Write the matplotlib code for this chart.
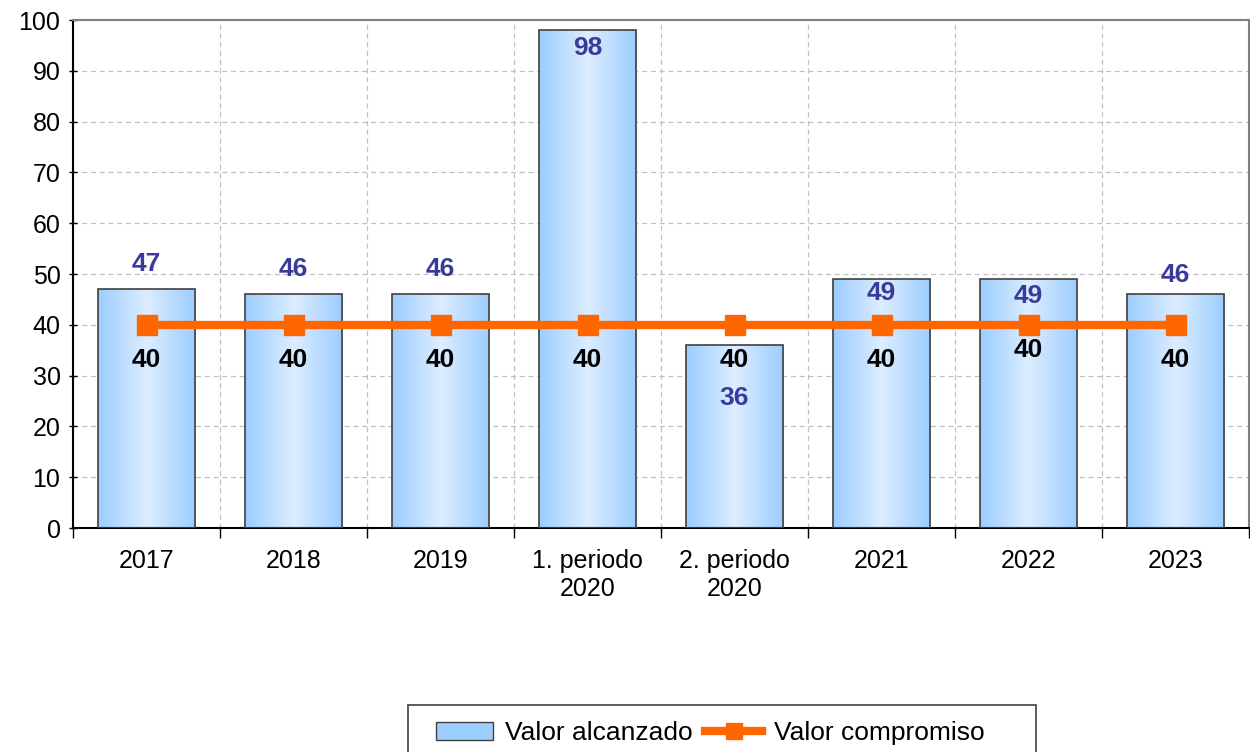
import matplotlib
matplotlib.use("Agg")
import matplotlib.pyplot as plt
import numpy as np
from matplotlib.colors import LinearSegmentedColormap
from matplotlib.lines import Line2D
from matplotlib.patches import Patch, Rectangle

plt.rcParams['font.family'] = ['Liberation Sans', 'DejaVu Sans']

categories = ['2017', '2018', '2019', '1. periodo\n2020', '2. periodo\n2020', '2021', '2022', '2023']
alcanzado = [47, 46, 46, 98, 36, 49, 49, 46]
compromiso = [40, 40, 40, 40, 40, 40, 40, 40]
# where the value labels sit (data units)
pos_alcanzado = [52.0, 51.0, 51.0, 94.5, 25.6, 46.3, 45.7, 49.8]
pos_compromiso = [33.1, 33.1, 33.1, 33.1, 33.1, 33.1, 35.0, 33.1]

W, H = 1250, 752
fig = plt.figure(figsize=(W / 100, H / 100), dpi=100)
ax = fig.add_axes([73 / W, 1 - 528 / H, 1176 / W, 508 / H])

x = np.arange(len(categories))
bars = ax.bar(x, alcanzado, width=0.66, color='none', edgecolor='#404040', linewidth=1.2, zorder=3)

# horizontal gradient inside each bar
cmap = LinearSegmentedColormap.from_list('g', ['#9ccdff', '#dcedff', '#9ccdff'])
grad = np.linspace(0, 1, 256).reshape(1, -1)
for b in bars:
    im = ax.imshow(grad, cmap=cmap, aspect='auto', zorder=2,
                   extent=[b.get_x(), b.get_x() + b.get_width(), 0, b.get_height()])
    im.set_clip_path(b)

ax.plot(x, compromiso, color='#ff6600', linewidth=6, marker='s', markersize=14, zorder=4)

for i in range(len(x)):
    ax.text(x[i], pos_alcanzado[i], str(alcanzado[i]), ha='center', va='center',
            fontsize=19, fontweight='bold', color='#3a3a9a', zorder=5)
    ax.text(x[i], pos_compromiso[i], str(compromiso[i]), ha='center', va='center',
            fontsize=19, fontweight='bold', color='black', zorder=5)

ax.set_xlim(-0.5, len(categories) - 0.5)
ax.set_ylim(0, 100)
ax.set_yticks(np.arange(0, 101, 10))
ax.set_xticks(x)
ax.set_xticklabels(categories, fontsize=18)
ax.tick_params(axis='x', length=0, pad=15)
ax.set_xticks(np.arange(-0.5, len(categories), 1), minor=True)
ax.tick_params(axis='x', which='minor', length=7, direction='out', width=1)
ax.tick_params(axis='y', labelsize=18, length=6, direction='inout', width=1, pad=6)
ax.set_aspect('auto')

ax.grid(axis='y', which='major', linestyle=(0, (4, 3)), color='#c0c0c0', linewidth=0.9, zorder=0)
ax.grid(axis='x', which='minor', linestyle=(0, (4, 3)), color='#c0c0c0', linewidth=0.9, zorder=0)
ax.set_axisbelow(True)

for s in ['top', 'right']:
    ax.spines[s].set_color('#808080')
    ax.spines[s].set_linewidth(1.5)
for s in ['left', 'bottom']:
    ax.spines[s].set_color('black')
    ax.spines[s].set_linewidth(1.5)

# legend box runs off the bottom edge, as in the original
fig.patches.append(Rectangle((408 / W, 1 - 770 / H), 628 / W, 65 / H, transform=fig.transFigure,
                             facecolor='white', edgecolor='#404040', linewidth=1.2))
handles = [Patch(facecolor='#9ccdff', edgecolor='#404040', label='Valor alcanzado'),
           Line2D([0], [0], color='#ff6600', linewidth=6, marker='s', markersize=12,
                  label='Valor compromiso')]
fig.legend(handles=handles, loc='center left', bbox_to_anchor=(436 / W, 1 - 733 / H),
           ncol=2, fontsize=19, frameon=False, borderpad=0, borderaxespad=0,
           handlelength=2.15, columnspacing=0.5, handletextpad=0.45)

fig.savefig('out.png', dpi=100)
